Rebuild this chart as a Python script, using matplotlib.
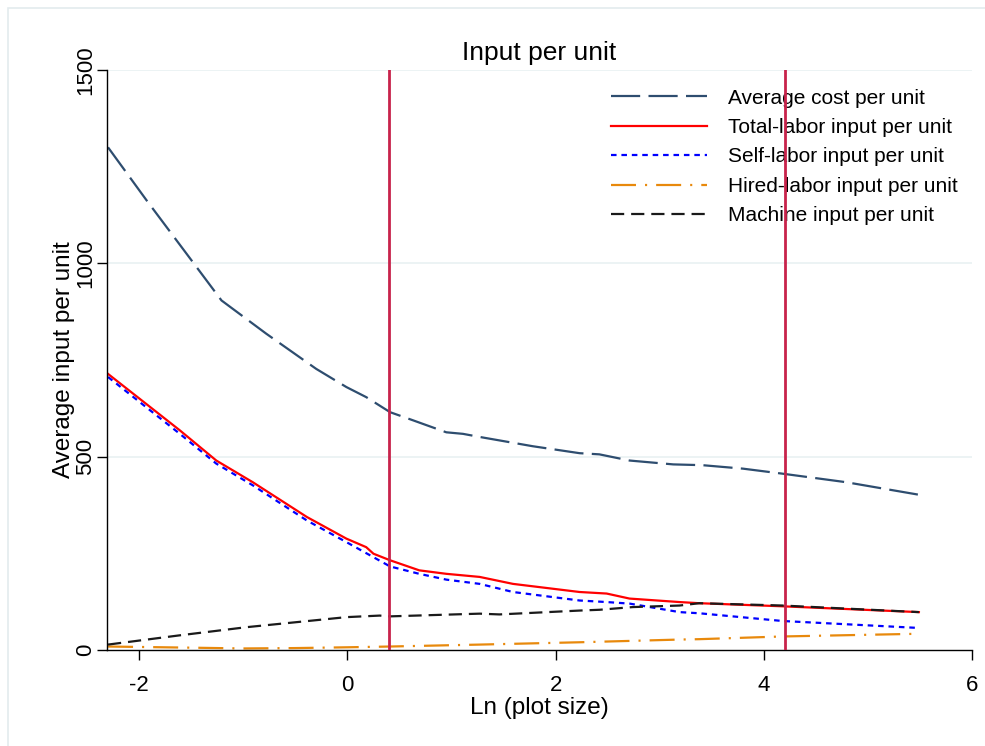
import matplotlib
matplotlib.use("Agg")
import matplotlib.pyplot as plt
from matplotlib.patches import Rectangle

plt.rcParams['font.family'] = ['Liberation Sans', 'DejaVu Sans']
plt.rcParams['lines.scale_dashes'] = False
plt.rcParams['axes.unicode_minus'] = False

# Data
avg_x = [-2.30, -1.93, -1.51, -1.21, -0.78, -0.30, -0.01, 0.18, 0.41, 0.63, 0.95, 1.11, 1.27,
         1.78, 2.23, 2.42, 2.71, 3.13, 3.41, 3.80, 4.18, 4.79, 5.48]
avg_y = [1300, 1163, 1012, 904, 818, 727, 680, 654, 615, 594, 563, 559, 551,
         527, 509, 506, 490, 480, 478, 469, 456, 434, 402]

tot_x = [-2.30, -1.61, -1.26, -0.91, -0.39, -0.01, 0.18, 0.25, 0.41, 0.69, 0.95, 1.27, 1.59,
         2.23, 2.49, 2.71, 3.19, 3.38, 4.18, 5.49]
tot_y = [714, 568, 490, 434, 344, 288, 266, 249, 232, 206, 197, 189, 171,
         150, 146, 133, 124, 121, 113, 98]

self_x = [-2.30, -1.61, -1.26, -0.91, -0.39, -0.01, 0.25, 0.41, 0.69, 0.95, 1.27, 1.59,
          2.23, 2.49, 2.71, 3.19, 3.38, 4.18, 5.49]
self_y = [706, 559, 482, 426, 335, 279, 240, 216, 197, 182, 171, 150,
          128, 124, 120, 98, 95, 75, 57]

hired_x = [-2.30, -1.5, -1.0, -0.5, 0.0, 0.41, 1.27, 2.23, 3.19, 3.38, 4.18, 5.49]
hired_y = [9, 6, 4, 5, 7, 9, 14, 20, 27, 28, 35, 42]

mach_x = [-2.30, -1.61, -0.97, -0.01, 0.31, 0.41, 1.27, 1.46, 2.23, 2.42, 2.74, 3.19, 3.38, 4.18, 5.49]
mach_y = [14, 38, 59, 85, 89, 87, 94, 92, 102, 104, 111, 115, 121, 115, 98]

vlines = [0.40, 4.20]
x_ticks = [-2, 0, 2, 4, 6]
y_ticks = [0, 500, 1000, 1500]

fig = plt.figure(figsize=(9.85, 7.46), dpi=100)
ax = fig.add_axes([107/985, 1-650/746, (972-107)/985, (650-70)/746])

fig.patches.append(Rectangle((8/985, -0.05), 1.2, 1 - 8/746 + 0.05, transform=fig.transFigure,
                             fill=False, edgecolor='#e3ebee', linewidth=1.2))

for yv in y_ticks[1:]:
    ax.axhline(yv, color='#eaf2f3', linewidth=1.3, zorder=0)

lw = 1.6
ax.plot(avg_x, avg_y, color='#2e4d6f', linewidth=lw, dashes=(21, 6), label='Average cost per unit')
ax.plot(tot_x, tot_y, color='#ff0000', linewidth=lw, label='Total-labor input per unit')
ax.plot(self_x, self_y, color='#0000ff', linewidth=lw, dashes=(4, 3.5), label='Self-labor input per unit')
ax.plot(hired_x, hired_y, color='#e8890c', linewidth=lw, dashes=(18, 6.5, 1.5, 6.5), label='Hired-labor input per unit')
ax.plot(mach_x, mach_y, color='#1a1a1a', linewidth=lw, dashes=(9.5, 5), label='Machine input per unit')

for v in vlines:
    ax.axvline(v, color='#c8234b', linewidth=2.0, zorder=4)

ax.set_xlim(-2.31, 6)
ax.set_ylim(0, 1500)
ax.set_xticks(x_ticks)
ax.set_yticks(y_ticks)
ax.set_yticklabels([str(t) for t in y_ticks], rotation=90, va='center')
ax.tick_params(axis='both', direction='out', length=7, width=1, labelsize=16, colors='black')
ax.tick_params(axis='x', pad=11)
ax.tick_params(axis='y', pad=1)
for s in ['top', 'right']:
    ax.spines[s].set_visible(False)
for s in ['left', 'bottom']:
    ax.spines[s].set_linewidth(1.0)

ax.set_title('Input per unit', fontsize=19, pad=7)
ax.set_xlabel('Ln (plot size)', fontsize=17.5, labelpad=1)
ax.set_ylabel('Average input per unit', fontsize=17.5, labelpad=0)

leg = ax.legend(loc='upper right', bbox_to_anchor=(1.0, 0.993), frameon=False, fontsize=15,
                handlelength=4.6, handletextpad=1.0, labelspacing=0.5, borderaxespad=0.3)
leg.set_zorder(3)

fig.savefig('out.png', dpi=100, facecolor='white')
